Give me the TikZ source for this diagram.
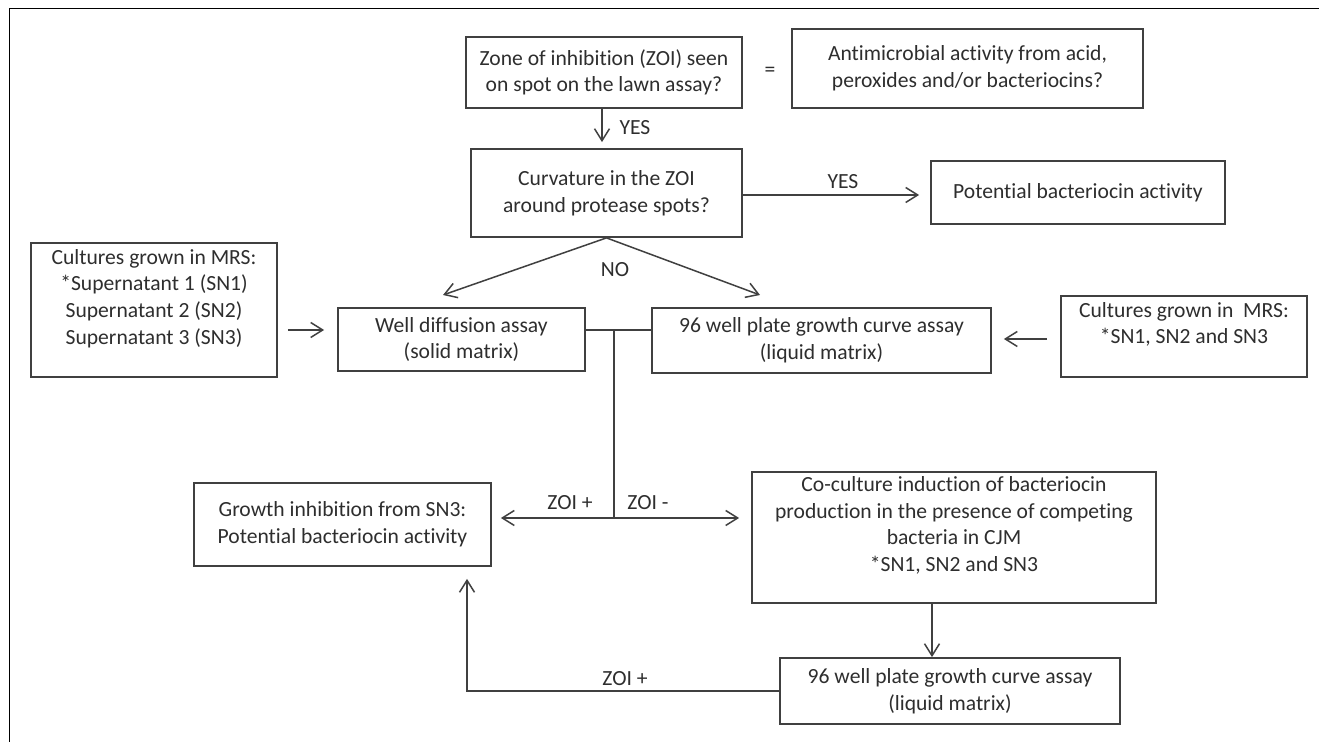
\documentclass[tikz,border=0pt]{standalone}
\usepackage{fontspec}
\setmainfont{Carlito}[Ligatures={NoCommon}]
\usetikzlibrary{arrows.meta,calc}
\definecolor{ln}{HTML}{404040}
\definecolor{tx}{HTML}{2E2E2E}
\begin{document}
\begin{tikzpicture}[x=0.5pt,y=-0.5pt,
  font=\fontsize{10.8}{13.3}\selectfont, text=tx,
  box/.style={draw=ln, line width=0.9pt, align=center, inner sep=2pt},
  conn/.style={draw=ln, line width=0.75pt},
  arr/.style={conn, -{Straight Barb[length=6pt,width=7.5pt]}},
  arrboth/.style={conn, {Straight Barb[length=6pt,width=7.5pt]}-{Straight Barb[length=6pt,width=7.5pt]}},
  lbl/.style={inner sep=0pt}]
\useasboundingbox (0,0) rectangle (1319,742);
\fill[white] (0,0) rectangle (1319,742);
\draw[black, line width=0.75pt] (9.5,742) -- (9.5,8.5) -- (1319,8.5);

\node[box, minimum width=138pt, minimum height=35.5pt] (A) at (604,72.5) {Zone of inhibition (ZOI) seen\\ on spot on the lawn assay?};
\node[box, minimum width=175.5pt, minimum height=39.5pt] (B) at (967.5,68.5) {Antimicrobial activity from acid,\\ peroxides and/or bacteriocins?};
\node[lbl] (eq) at (770,72) {=};
\node[box, minimum width=135.5pt, minimum height=44pt] (C) at (606.5,193) {Curvature in the ZOI\\ around protease spots?};
\node[box, minimum width=147pt, minimum height=31.5pt] (D) at (1078,192.5) {Potential bacteriocin activity};
\node[box, minimum width=123pt, minimum height=67pt] (E) at (154,310) {Cultures grown in MRS:\\ *Supernatant 1 (SN1)\\ Supernatant 2 (SN2)\\ Supernatant 3 (SN3)\\ \mbox{}};
\node[box, minimum width=123.5pt, minimum height=31.5pt] (F) at (461.5,339.5) {Well diffusion assay\\ (solid matrix)};
\node[box, minimum width=169.5pt, minimum height=32.5pt] (G) at (821.5,340.5) {96 well plate growth curve assay\\ (liquid matrix)};
\node[box, minimum width=123pt, minimum height=40.5pt] (H) at (1184,336.5) {Cultures grown in\ \ MRS:\\ *SN1, SN2 and SN3\\ \mbox{}};
\node[box, minimum width=148.5pt, minimum height=41.5pt] (I) at (342.5,524.5) {Growth inhibition from SN3:\\ Potential bacteriocin activity};
\node[box, minimum width=202pt, minimum height=65.5pt] (J) at (954,537.5) {Co-culture induction of bacteriocin\\ production in the presence of competing\\ bacteria in CJM\\ *SN1, SN2 and SN3\\ \mbox{}};
\node[box, minimum width=170pt, minimum height=33pt] (K) at (950,691) {96 well plate growth curve assay\\ (liquid matrix)};

% A -> C
\draw[arr, shorten >=3pt] ([xshift=-1pt]A.south) -- ([xshift=-1pt]A.south |- C.north);
\node[lbl] (yes1) at (635,128) {YES};
% C -> D
\draw[arr, shorten >=5.5pt] ([yshift=-1pt]C.east) -- ([yshift=-1pt]C.east -| D.west);
\node[lbl] (yes2) at (843,182) {YES};
% C -> NO branches
\coordinate (nl) at (443,295);
\coordinate (nr) at (760,295);
\draw[arr] (C.south) -- (nl);
\draw[arr] (C.south) -- (nr);
\node[lbl] (no) at (615,270) {NO};
% E -> F
\draw[arr, shorten <=5pt, shorten >=6.5pt] ([yshift=-10pt]E.east) -- ([yshift=-10pt]E.east -| F.west);
% H -> G
\draw[arr, shorten <=6.5pt, shorten >=6pt] ([yshift=-1.25pt]H.west) -- ([yshift=-1.25pt]H.west -| G.east);
% F -- G and junction
\draw[conn] ([yshift=4.75pt]F.east) -- ([yshift=4.75pt]F.east -| G.west);
\coordinate (jt) at (614,330);
\coordinate (jb) at (614,518);
\draw[conn] (jt) -- (jb);
\draw[arrboth, shorten <=4.5pt, shorten >=6pt] (jb -| I.east) -- (jb -| J.west);
\node[lbl] (zp1) at (570,503) {ZOI +};
\node[lbl] (zm1) at (648,503) {ZOI -};
% J -> K
\draw[arr] ([xshift=-11pt]J.south) -- ([xshift=-11pt]J.south |- K.north);
% K -> I
\draw[arr] (K.west) -| ([xshift=62.25pt,yshift=-6pt]I.south);
\node[lbl] (zp2) at (625,679) {ZOI +};
\end{tikzpicture}
\end{document}
